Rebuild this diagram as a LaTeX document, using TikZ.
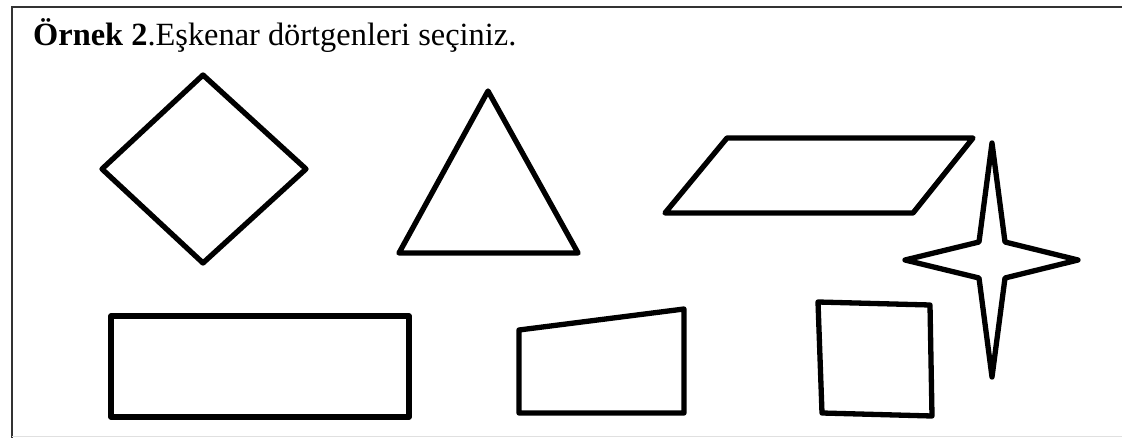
\documentclass[tikz,border=0pt]{standalone}
\usepackage{fontspec}
\setmainfont{Liberation Serif}
\usepackage{tikz}
\usetikzlibrary{positioning}

\begin{document}
\begin{tikzpicture}[
    x=1pt, y=-1pt,
    sekil/.style={line width=5.3pt, line join=round, black},
    frame/.style={line width=1.5pt, black!80},
    title/.style={anchor=base west, inner sep=0pt, font=\fontsize{32.4}{36}\selectfont}
]
\useasboundingbox (0,0) rectangle (1122,438);
% cerceve
\draw[frame] (1122,7) -- (12,7) -- (12,438);
\draw[line width=1pt, black!12] (12,436) -- (1122,436);
\node[title] (baslik) at (33,46) {\textbf{Örnek 2}.Eşkenar dörtgenleri seçiniz.};
% ust sira
\draw[sekil] (203,75) -- (306,169) -- (203,263) -- (102,169) -- cycle;
\draw[sekil] (488,91) -- (578,253) -- (399,253) -- cycle;
\draw[sekil] (727,138) -- (973,138) -- (913,213) -- (665,213) -- cycle;
\draw[sekil] (992,143) -- (1005,242) -- (1078,260) -- (1005,278) -- (992,377)
             -- (979,278) -- (905,260) -- (979,242) -- cycle;
% alt sira
\draw[sekil] (111,316) rectangle (409,417);
\draw[sekil] (519,330) -- (684,309) -- (684,413) -- (519,413) -- cycle;
\draw[sekil] (818,302) -- (930,305) -- (932,416) -- (822,413) -- cycle;
\end{tikzpicture}
\end{document}
